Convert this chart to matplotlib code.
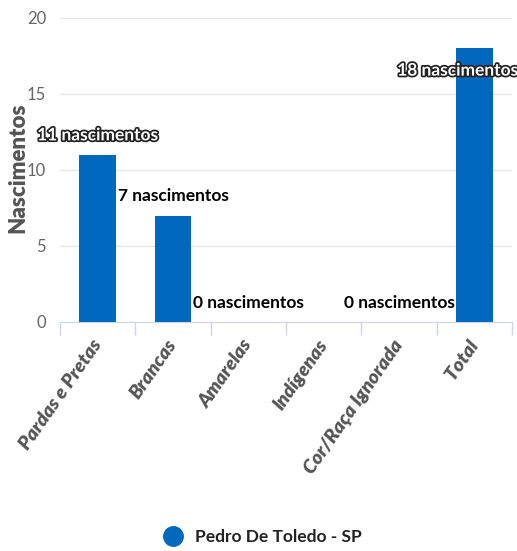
import numpy as np
import matplotlib.pyplot as plt
import matplotlib.patheffects as pe
from matplotlib.lines import Line2D

categories = ['Pardas e Pretas', 'Brancas', 'Amarelas', 'Indígenas', 'Cor/Raça Ignorada', 'Total']
values = [11, 7, 0, 0, 0, 18]
# Highcharts hides overlapping labels; Indígenas label is not drawn
show_label = [True, True, True, False, True, True]
outlined = [True, False, False, False, False, True]
series_name = 'Pedro De Toledo - SP'
y_ticks = [0, 5, 10, 15, 20]

bar_color = '#0068BD'
grey = '#555555'

plt.rcParams['font.family'] = ['Lato', 'DejaVu Sans']

fig = plt.figure(figsize=(5.17, 5.51), dpi=100)
ax = fig.add_axes([60 / 517, 229 / 551, 452 / 517, 304 / 551])

x = np.arange(len(categories))
ax.bar(x, values, width=0.49, color=bar_color, zorder=3)

ax.set_xlim(-0.5, len(categories) - 0.5)
ax.set_ylim(0, 20)
ax.set_yticks(y_ticks)
ax.set_yticklabels([str(t) for t in y_ticks], fontsize=12, color='#666666')
ax.tick_params(axis='y', length=0, pad=10)
ax.grid(axis='y', color='#e6e6e6', linewidth=1, zorder=0)

# category tick marks sit on the boundaries
ax.set_xticks(np.arange(len(categories) + 1) - 0.5, minor=True)
ax.tick_params(axis='x', which='minor', length=9, color='#ccd6eb', width=1)
ax.set_xticks(x)
ax.set_xticklabels(categories, rotation=55, ha='right', va='center', rotation_mode='anchor',
                   fontsize=14, color=grey, fontweight='heavy', style='italic')
ax.tick_params(axis='x', which='major', length=0, pad=14)

for s in ['top', 'right', 'left']:
    ax.spines[s].set_visible(False)
ax.spines['bottom'].set_color('#ccd6eb')

fig.text(18 / 517, 1 - 168 / 551, 'Nascimentos', rotation=90, ha='center', va='center',
         fontsize=16, fontweight='heavy', color=grey)

for xi, v, show, outl in zip(x, values, show_label, outlined):
    if not show:
        continue
    txt = f'{v} nascimentos'
    if outl and v == max(values):
        # label of the tallest bar is pushed inside the bar and kept within the plot
        t = ax.annotate(txt, (xi, v), xytext=(-12, -16), textcoords='offset points',
                        ha='center', va='center', fontsize=12.5, fontweight='bold',
                        color='white', zorder=5)
    else:
        t = ax.annotate(txt, (xi, v), xytext=(0, 14), textcoords='offset points',
                        ha='center', va='center', fontsize=12.5, fontweight='bold',
                        color='white' if outl else 'black', zorder=5)
    if outl:
        t.set_path_effects([pe.withStroke(linewidth=2.5, foreground='#222222')])

handle = Line2D([], [], marker='o', linestyle='', markersize=14,
                markerfacecolor=bar_color, markeredgecolor=bar_color)
fig.legend([handle], [series_name], loc='lower center', bbox_to_anchor=(0.5, -0.012),
           frameon=False, prop={'size': 12.5, 'weight': 'bold'}, handletextpad=0.3,
           borderpad=0.2, labelcolor='#222222')

fig.savefig('out.png', dpi=100)
